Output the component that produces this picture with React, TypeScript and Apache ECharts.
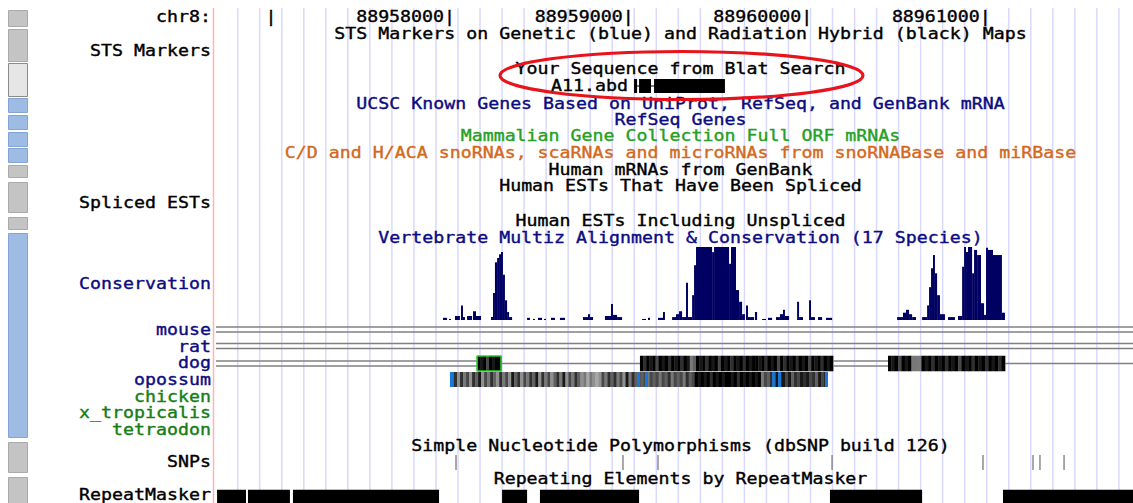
import React, { useEffect, useRef } from "react";
import * as echarts from "echarts";

// All genomic positions below are offsets in bp from chr8:88,957,000
const REF = 88957000;
const WINDOW = [-308, 4827];

const rulerTicks = [0, 1000, 2000, 3000, 4000];
const rulerLabels = ["", "88958000", "88959000", "88960000", "88961000"];

const blatName = "A11.abd";
const blatBlocks = [
  [2033, 2050],
  [2061, 2128],
  [2145, 2542],
];

// [start, end, conservation score 0..1]
const conservation = [
  [963, 986, 0.03], [997, 1008, 0.015], [1030, 1058, 0.055], [1064, 1075, 0.2], [1075, 1086, 0.04],
  [1098, 1126, 0.055], [1131, 1148, 0.12], [1148, 1176, 0.055], [1232, 1243, 0.04], [1243, 1254, 0.37],
  [1254, 1266, 0.79], [1266, 1277, 0.85], [1277, 1288, 0.9], [1288, 1299, 0.93], [1299, 1310, 0.62],
  [1310, 1322, 0.27], [1322, 1333, 0.11], [1333, 1350, 0.04], [1434, 1450, 0.03], [1467, 1478, 0.015],
  [1495, 1518, 0.03], [1529, 1540, 0.015], [1568, 1590, 0.03], [1618, 1646, 0.03], [1747, 1775, 0.04],
  [1775, 1786, 0.08], [1786, 1803, 0.04], [1870, 1904, 0.055], [1904, 1915, 0.22], [1915, 1938, 0.07],
  [1938, 1966, 0.04], [2078, 2100, 0.015], [2111, 2122, 0.03], [2167, 2195, 0.03], [2195, 2206, 0.11],
  [2246, 2268, 0.04], [2268, 2285, 0.08], [2285, 2302, 0.12], [2302, 2324, 0.04], [2324, 2335, 0.51],
  [2335, 2358, 0.04], [2358, 2369, 0.34], [2369, 2380, 0.75], [2380, 2470, 1], [2470, 2481, 0.93],
  [2481, 2565, 1], [2565, 2576, 0.77], [2576, 2604, 1], [2604, 2621, 0.41], [2621, 2638, 0.25],
  [2638, 2654, 0.08], [2660, 2671, 0.2], [2671, 2705, 0.04], [2710, 2722, 0.11], [2750, 2772, 0.015],
  [2783, 2806, 0.03], [2828, 2850, 0.04], [2850, 2867, 0.08], [2867, 2878, 0.14], [2878, 2901, 0.055],
  [2946, 2957, 0.25], [2957, 2979, 0.04], [3013, 3024, 0.27], [3024, 3046, 0.04], [3063, 3086, 0.04],
  [3108, 3142, 0.03], [3506, 3539, 0.04], [3539, 3556, 0.1], [3556, 3573, 0.14], [3573, 3590, 0.08],
  [3590, 3612, 0.04], [3646, 3674, 0.04], [3674, 3685, 0.2], [3685, 3696, 0.45], [3696, 3707, 0.71],
  [3707, 3718, 0.89], [3718, 3730, 0.64], [3730, 3746, 0.34], [3746, 3774, 0.08], [3791, 3830, 0.04],
  [3847, 3870, 0.055], [3870, 3881, 0.73], [3881, 3892, 1], [3892, 3903, 0.93], [3903, 3926, 1],
  [3926, 3937, 0.64], [3937, 3954, 0.96], [3954, 3976, 0.89], [3976, 3993, 0.23], [3993, 4004, 0.07],
  [4004, 4015, 0.99], [4015, 4043, 0.96], [4043, 4093, 0.89], [4093, 4110, 0.1],
];

// chain/net segments: [start, end, kind, blockIndex]
const DOUBLE = 0, SINGLE = 1, BLOCK = 2;
const mouseChain = [[-1000, 6000, DOUBLE, -1]];
const ratChain = [[-1000, 6000, DOUBLE, -1]];
const dogChain = [
  [-1000, 1154, DOUBLE, -1],
  [1154, 1288, BLOCK, 0],
  [1288, 2066, SINGLE, -1],
  [2066, 3147, BLOCK, 1],
  [3147, 3455, DOUBLE, -1],
  [3455, 4110, BLOCK, 2],
  [4110, 6000, SINGLE, -1],
];
// grey level per cell (0 = black, 9 = light grey)
const dogBlockShades = [
  "01030100",
  "0201030102010201" + "54" + "01020103010201020100" + "102010302010201030102010",
  "0103" + "010" + "555" + "0102010201030102010201020",
];
const dogOutlinedBlock = 0;

const opossumBlock = [1008, 3114];
const opossumShades =
  "4262536241635246253614263524162536425163524" +
  "6575676" +
  "3524253615243" +
  "435343534253435243" +
  "0101020101001020101010" +
  "5342312131423121324131";
const opossumMarks = [
  [1002, 1019], [2050, 2066], [2094, 2111], [2806, 2822], [2839, 2856], [3102, 3119],
];

const snpPositions = [1036, 1971, 2167, 3142, 3987, 4267, 4306, 4441];

const repeatBlocks = [
  [-302, -140], [-129, 106], [123, 941], [1294, 1434], [1506, 2061], [3130, 3646], [4099, 5200],
];

const trackTitles = [
  "STS Markers on Genetic (blue) and Radiation Hybrid (black) Maps",
  "Your Sequence from Blat Search",
  "UCSC Known Genes Based on UniProt, RefSeq, and GenBank mRNA",
  "RefSeq Genes",
  "Mammalian Gene Collection Full ORF mRNAs",
  "C/D and H/ACA snoRNAs, scaRNAs and microRNAs from snoRNABase and miRBase",
  "Human mRNAs from GenBank",
  "Human ESTs That Have Been Spliced",
  "Human ESTs Including Unspliced",
  "Vertebrate Multiz Alignment & Conservation (17 Species)",
  "Simple Nucleotide Polymorphisms (dbSNP build 126)",
  "Repeating Elements by RepeatMasker",
];
const sideLabels = [
  "chr8:", "STS Markers", "Spliced ESTs", "Conservation", "mouse", "rat", "dog", "opossum",
  "chicken", "x_tropicalis", "tetraodon", "SNPs", "RepeatMasker",
];

// ---------- layout & style ----------
const BLACK = "#000000";
const NAVY = "#0c0c80";
const GREEN = "#25a025";
const DKGREEN = "#147d14";
const ORANGE = "#d2691e";
const CONS = "#000062";

const titleY = [34, 69, 103.5, 119.5, 136, 152.5, 169.5, 186, 221, 237.5, 445.5, 478.5];
const titleColor = [BLACK, BLACK, NAVY, NAVY, GREEN, ORANGE, BLACK, BLACK, BLACK, NAVY, BLACK, BLACK];
const sideY = [17, 51, 203, 284, 329.8, 346.4, 363, 379.6, 396.2, 412.8, 429.4, 462, 494.3];
const sideColor = [BLACK, BLACK, BLACK, NAVY, NAVY, NAVY, NAVY, NAVY, DKGREEN, DKGREEN, DKGREEN, BLACK, BLACK];

const FONT = '15px "DejaVu Sans Mono"';
const SX = 11 / (15 * 0.6021);
const LEFT = 216;
const WIDTH = 917;

const rows: [number, number][] = [
  [9, 16], // 0 ruler
  [79, 14], // 1 blat
  [247, 73], // 2 conservation
  [322, 15], // 3 mouse
  [338.5, 15], // 4 rat
  [355.5, 16], // 5 dog
  [372, 15], // 6 opossum
  [455, 15], // 7 snp
  [489.5, 16], // 8 repeat
];

const buttons: [number, number, string][] = [
  [10, 17, "g"], [29, 33, "g"], [63, 34, "p"], [98, 15, "b"], [115, 15, "b"], [132, 15, "b"],
  [148, 15, "b"], [165, 13, "g"], [182, 31, "g"], [217, 13, "g"], [233, 205, "b"], [442, 31, "g"],
  [477, 30, "g"],
];

function textStyle(text: string, fill: string, align: string) {
  return {
    text,
    fill,
    stroke: fill,
    lineWidth: 0.35,
    font: FONT,
    align,
    verticalAlign: "middle",
    textAlign: align,
    textVerticalAlign: "middle",
  };
}

function txt(text: string, x: number, y: number, fill: string, align: string) {
  return { type: "text", x, y, scaleX: SX, z: 10, silent: true, style: textStyle(text, fill, align) };
}

function gray(c: string) {
  const v = Math.min(230, Number(c) * 24);
  return `rgb(${v},${v},${v})`;
}

function hline(x0: number, x1: number, y: number, color = "#808080", w = 1.5) {
  return { type: "line", shape: { x1: x0, y1: y, x2: x1, y2: y }, style: { stroke: color, lineWidth: w } };
}

const chainRender = (shades: string[], outlined: number) => (params: any, api: any) => {
  const s = api.value(0), e = api.value(1), kind = api.value(2), bi = api.value(3);
  const a = api.coord([s, 0]);
  const b = api.coord([e, 1]);
  const x0 = a[0], x1 = b[0], yBot = a[1], yTop = b[1];
  const cy = (yTop + yBot) / 2;
  if (kind === DOUBLE) {
    return { type: "group", children: [hline(x0, x1, cy - 2.5), hline(x0, x1, cy + 2.5)] };
  }
  if (kind === SINGLE) return hline(x0, x1, cy);
  const cells = shades[bi];
  const w = (x1 - x0) / cells.length;
  const children: any[] = cells.split("").map((c, k) => ({
    type: "rect",
    shape: { x: x0 + k * w, y: yTop, width: w + 0.4, height: yBot - yTop },
    style: { fill: gray(c) },
  }));
  if (bi === outlined) {
    children.push({
      type: "rect",
      shape: { x: x0, y: yTop + 0.5, width: x1 - x0, height: yBot - yTop - 1 },
      style: { fill: "none", stroke: "#22cc22", lineWidth: 1.6 },
    });
  }
  return { type: "group", children };
};

export default function App() {
  const ref = useRef<HTMLDivElement>(null);
  useEffect(() => {
    document.body.style.margin = "0";
    const chart = echarts.init(ref.current!, undefined, { renderer: "svg" });

    const grid = rows.map(([top, height]) => ({ left: LEFT, width: WIDTH, top, height }));
    const xAxis = rows.map((_, i) => ({ type: "value", gridIndex: i, min: WINDOW[0], max: WINDOW[1], show: false }));
    const yAxis = rows.map((_, i) => ({ type: "value", gridIndex: i, min: 0, max: 1, show: false }));

    const ax = (i: number) => ({ xAxisIndex: i, yAxisIndex: i });

    const series: any[] = [
      {
        type: "custom",
        ...ax(0),
        z: 5,
        data: rulerTicks.map((t, i) => [t, i]),
        renderItem: (params: any, api: any) => {
          const i = api.value(1);
          const p = api.coord([api.value(0), 0.5]);
          return {
            type: "text",
            x: p[0] + 5.5,
            y: p[1],
            scaleX: SX,
            style: textStyle(rulerLabels[i] + "|", BLACK, "right"),
          };
        },
      },
      {
        type: "custom",
        ...ax(1),
        z: 5,
        data: blatBlocks,
        renderItem: (params: any, api: any) => {
          const a = api.coord([api.value(0), 0]);
          const b = api.coord([api.value(1), 1]);
          const children: any[] = [
            { type: "rect", shape: { x: a[0], y: b[1], width: b[0] - a[0], height: a[1] - b[1] }, style: { fill: "#000" } },
          ];
          if (params.dataIndex === 0) {
            const last = api.coord([blatBlocks[blatBlocks.length - 1][1], 0.5]);
            children.unshift(hline(a[0], last[0], last[1], "#000", 1));
            children.push({
              type: "text",
              x: a[0] - 6,
              y: (a[1] + b[1]) / 2,
              scaleX: SX,
              style: textStyle(blatName, BLACK, "right"),
            });
          }
          return { type: "group", children };
        },
      },
      {
        type: "custom",
        ...ax(2),
        z: 5,
        clip: true,
        data: conservation,
        renderItem: (params: any, api: any) => {
          const p0 = api.coord([api.value(0), 0]);
          const p1 = api.coord([api.value(1), api.value(2)]);
          return {
            type: "rect",
            shape: { x: p0[0], y: p1[1], width: Math.max(p1[0] - p0[0], 1), height: p0[1] - p1[1] },
            style: { fill: CONS },
          };
        },
      },
      { type: "custom", ...ax(3), z: 5, clip: true, data: mouseChain, renderItem: chainRender([], -1) },
      { type: "custom", ...ax(4), z: 5, clip: true, data: ratChain, renderItem: chainRender([], -1) },
      { type: "custom", ...ax(5), z: 5, clip: true, data: dogChain, renderItem: chainRender(dogBlockShades, dogOutlinedBlock) },
      {
        type: "custom",
        ...ax(6),
        z: 5,
        clip: true,
        data: [opossumBlock],
        renderItem: (params: any, api: any) => {
          const a = api.coord([api.value(0), 0]);
          const b = api.coord([api.value(1), 1]);
          const w = (b[0] - a[0]) / opossumShades.length;
          return {
            type: "group",
            children: opossumShades.split("").map((c, k) => ({
              type: "rect",
              shape: { x: a[0] + k * w, y: b[1], width: w + 0.4, height: a[1] - b[1] },
              style: { fill: gray(c) },
            })),
          };
        },
      },
      {
        type: "custom",
        ...ax(6),
        z: 6,
        clip: true,
        data: opossumMarks,
        renderItem: (params: any, api: any) => {
          const a = api.coord([api.value(0), 0]);
          const b = api.coord([api.value(1), 1]);
          return {
            type: "rect",
            shape: { x: a[0], y: b[1], width: b[0] - a[0], height: a[1] - b[1] },
            style: { fill: "#1a78d4" },
          };
        },
      },
      {
        type: "custom",
        ...ax(7),
        z: 5,
        data: snpPositions.map((p) => [p]),
        renderItem: (params: any, api: any) => {
          const a = api.coord([api.value(0), 0]);
          const b = api.coord([api.value(0), 1]);
          return {
            type: "line",
            shape: { x1: a[0], y1: a[1], x2: b[0], y2: b[1] },
            style: { stroke: "#8c8c8c", lineWidth: 1.5 },
          };
        },
      },
      {
        type: "custom",
        ...ax(8),
        z: 5,
        clip: true,
        data: repeatBlocks,
        renderItem: (params: any, api: any) => {
          const a = api.coord([api.value(0), 0]);
          const b = api.coord([api.value(1), 1]);
          return {
            type: "rect",
            shape: { x: a[0], y: b[1], width: b[0] - a[0], height: a[1] - b[1] },
            style: { fill: "#000" },
          };
        },
      },
    ];

    const elements: any[] = [];
    // guide lines
    for (let gx = 237.7; gx < 1133; gx += 22.03) {
      elements.push({
        type: "line",
        z: 0,
        silent: true,
        shape: { x1: gx, y1: 8, x2: gx, y2: 503 },
        style: { stroke: "#d9d9ff", lineWidth: 1.5 },
      });
    }
    elements.push({
      type: "line",
      z: 0,
      silent: true,
      shape: { x1: 213.5, y1: 8, x2: 213.5, y2: 503 },
      style: { stroke: "#ffb4b4", lineWidth: 1.5 },
    });
    // side buttons
    const btnStyle: Record<string, any> = {
      g: { fill: "#c4c4c4", stroke: "#aaaaaa" },
      p: { fill: "#e6e6e6", stroke: "#8a8a8a" },
      b: { fill: "#9ebbe4", stroke: "#84a4d4" },
    };
    buttons.forEach(([y, h, k]) => {
      elements.push({
        type: "rect",
        z: 10,
        silent: true,
        shape: { x: 8.5, y: y + 0.5, width: 19, height: h - 1 },
        style: { ...btnStyle[k], lineWidth: 1 },
      });
    });
    trackTitles.forEach((t, i) => elements.push(txt(t, 680.5, titleY[i], titleColor[i], "center")));
    sideLabels.forEach((t, i) => elements.push(txt(t, 211, sideY[i], sideColor[i], "right")));
    elements.push({
      type: "ellipse",
      z: 20,
      silent: true,
      shape: { cx: 681.5, cy: 75.5, rx: 181.5, ry: 24 },
      style: { fill: "none", stroke: "#e8141b", lineWidth: 3.2 },
    });

    chart.setOption({
      animation: false,
      backgroundColor: "#ffffff",
      grid,
      xAxis,
      yAxis,
      series,
      graphic: { elements },
    });
    return () => chart.dispose();
  }, []);
  return <div ref={ref} style={{ width: 1133, height: 503 }} />;
}
